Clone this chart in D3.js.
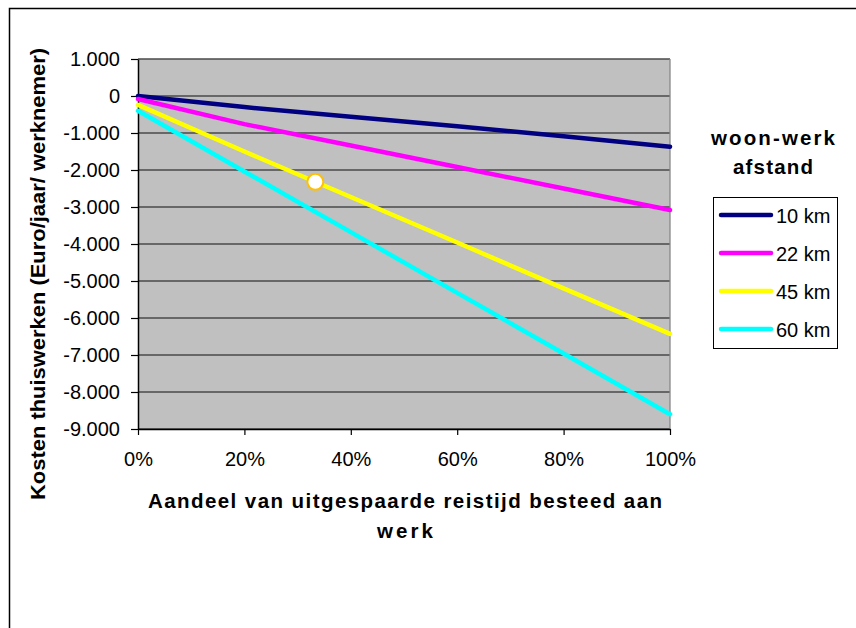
<!DOCTYPE html>
<html><head><meta charset="utf-8">
<script src="https://cdn.jsdelivr.net/npm/d3@7"></script>
<style>body{margin:0;background:#fff}svg{display:block;font-family:Arial,"Liberation Sans",sans-serif}</style>
</head><body><svg id="c" width="856" height="628"></svg>
<script>
const shares = [0, 0.2, 0.4, 0.6, 0.8, 1.0];
const seriesNames = ["10 km", "22 km", "45 km", "60 km"];
const s10 = [0, -300, -560, -820, -1090, -1370];
const s22 = [-80, -760, -1340, -1920, -2500, -3080];
const s45 = [-240, -1500, -2730, -3960, -5200, -6430];
const s60 = [-400, -2040, -3680, -5320, -6960, -8600];
const colors = ["#000080", "#FF00FF", "#FFFF00", "#00FFFF"];
const yTicks = [1000, 0, -1000, -2000, -3000, -4000, -5000, -6000, -7000, -8000, -9000];
const xTicks = [0, 0.2, 0.4, 0.6, 0.8, 1.0];
const marker = {share: 1/3, value: -2320};
const yTitle = "Kosten thuiswerken (Euro/jaar/ werknemer)";
const xTitle = ["Aandeel van uitgespaarde reistijd besteed aan", "werk"];
const legendTitle = ["woon-werk", "afstand"];

const allSeries = [s10, s22, s45, s60];
const svg = d3.select("#c");
const FONT = "Arial, 'Liberation Sans', sans-serif";
const L = 138, R = 670, T = 59, B = 429;
const x = d3.scaleLinear().domain([0, 1]).range([L, R]);
const y = d3.scaleLinear().domain([-9000, 1000]).range([B, T]);

// outer frame
svg.append("rect").attr("x", 9.5).attr("y", 8.5).attr("width", 900).attr("height", 700)
  .attr("fill", "none").attr("stroke", "#000").attr("stroke-width", 1.5);

// plot background
svg.append("rect").attr("x", L).attr("y", T).attr("width", R - L).attr("height", B - T).attr("fill", "#C0C0C0");

// gridlines
svg.append("g").selectAll("line").data(yTicks).join("line")
  .attr("x1", L).attr("x2", R).attr("y1", d => y(d)).attr("y2", d => y(d))
  .attr("stroke", "#4a4a4a").attr("stroke-width", 1.3);

// right border of plot
svg.append("line").attr("x1", R).attr("x2", R).attr("y1", T).attr("y2", B).attr("stroke", "#888").attr("stroke-width", 1.3);

const fmt = d => d3.format(",")(d).replace(/,/g, ".").replace("−", "-");

// y axis
const yAxis = d3.axisLeft(y).tickValues(yTicks).tickSize(7).tickSizeOuter(0).tickPadding(11).tickFormat(fmt);
const gy = svg.append("g").attr("transform", `translate(${L},0)`).call(yAxis);
gy.select(".domain").attr("stroke", "#000").attr("stroke-width", 1.5);
gy.selectAll(".tick line").attr("stroke", "#000").attr("stroke-width", 1.2);
gy.selectAll("text").attr("font-size", 20).attr("fill", "#000").attr("font-family", FONT);

// x axis
const xAxis = d3.axisBottom(x).tickValues(xTicks).tickSize(6).tickSizeOuter(0).tickPadding(17).tickFormat(d3.format(".0%"));
const gx = svg.append("g").attr("transform", `translate(0,${B})`).call(xAxis);
gx.select(".domain").attr("stroke", "#000").attr("stroke-width", 1.5);
gx.selectAll(".tick line").attr("stroke", "#000").attr("stroke-width", 1.2);
gx.selectAll("text").attr("font-size", 20).attr("fill", "#000").attr("font-family", FONT);

// lines
const line = d3.line().x((d, i) => x(shares[i])).y(d => y(d));
svg.append("g").selectAll("path").data(allSeries).join("path")
  .attr("d", d => line(d)).attr("fill", "none")
  .attr("stroke", (d, i) => colors[i]).attr("stroke-width", 4.5)
  .attr("stroke-linejoin", "round").attr("stroke-linecap", "round");

// marker
svg.append("circle").attr("cx", x(marker.share)).attr("cy", y(marker.value)).attr("r", 8)
  .attr("fill", "#fff").attr("stroke", "#FFC000").attr("stroke-width", 2);

// y title
svg.append("text").attr("transform", `translate(45,274) rotate(-90)`)
  .attr("text-anchor", "middle").attr("font-size", 20.5).attr("font-weight", "bold")
  .attr("textLength", 452).attr("lengthAdjust", "spacingAndGlyphs").text(yTitle);

// x title
const xLens = [514, 56];
svg.append("g").selectAll("text").data(xTitle).join("text")
  .attr("x", 405).attr("y", (d, i) => 508 + i * 30)
  .attr("text-anchor", "middle").attr("font-size", 20.5).attr("font-weight", "bold")
  .attr("textLength", (d, i) => xLens[i]).attr("lengthAdjust", "spacing").text(d => d);

// legend title
const lLens = [124, 80];
svg.append("g").selectAll("text").data(legendTitle).join("text")
  .attr("x", 773).attr("y", (d, i) => 145 + i * 29)
  .attr("text-anchor", "middle").attr("font-size", 20.5).attr("font-weight", "bold")
  .attr("textLength", (d, i) => lLens[i]).attr("lengthAdjust", "spacing").text(d => d);

// legend box
svg.append("rect").attr("x", 713.5).attr("y", 197.5).attr("width", 124).attr("height", 151)
  .attr("fill", "#fff").attr("stroke", "#000").attr("stroke-width", 1);
const lg = svg.append("g").selectAll("g").data(seriesNames).join("g")
  .attr("transform", (d, i) => `translate(0,${215 + i * 38})`);
lg.append("line").attr("x1", 721).attr("x2", 771).attr("y1", 0).attr("y2", 0)
  .attr("stroke", (d, i) => colors[i]).attr("stroke-width", 4.5).attr("stroke-linecap", "round");
lg.append("text").attr("x", 776).attr("y", 7.5).attr("font-size", 20).text(d => d);
</script></body></html>
